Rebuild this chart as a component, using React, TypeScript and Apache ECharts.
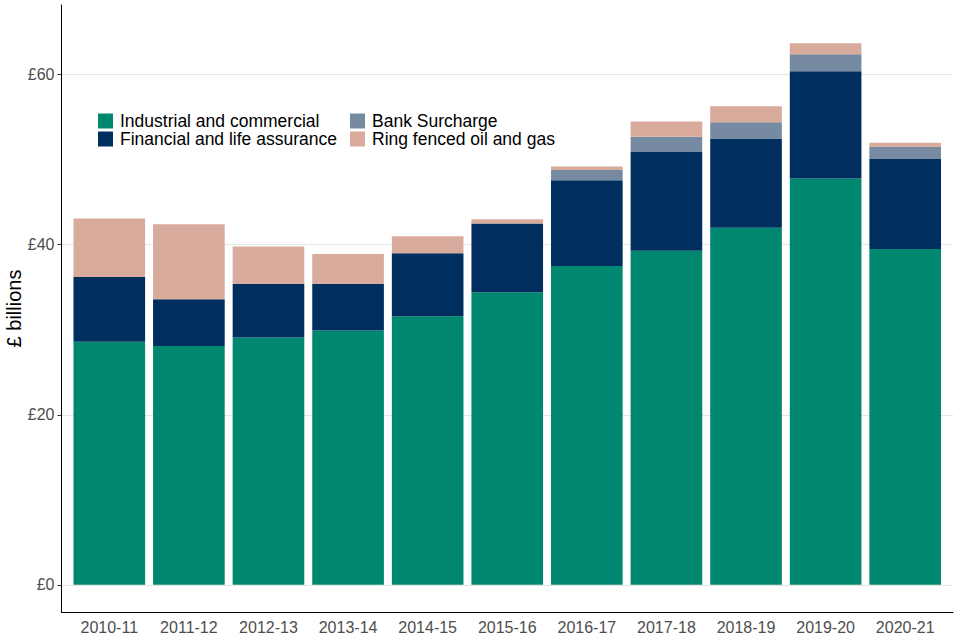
import React, { useEffect, useRef } from "react";
import * as echarts from "echarts";

const categories = ["2010-11", "2011-12", "2012-13", "2013-14", "2014-15", "2015-16", "2016-17", "2017-18", "2018-19", "2019-20", "2020-21"];
const industrial = [28.6, 28.1, 29.1, 29.9, 31.6, 34.4, 37.5, 39.3, 42.0, 47.8, 39.5];
const financial = [7.6, 5.5, 6.3, 5.5, 7.4, 8.1, 10.1, 11.6, 10.5, 12.6, 10.6];
const bankSurcharge = [0, 0, 0, 0, 0, 0, 1.2, 1.8, 1.9, 2.0, 1.4];
const ringFenced = [6.9, 8.8, 4.4, 3.5, 2.0, 0.5, 0.4, 1.8, 1.9, 1.3, 0.5];
const yTicks = [0, 20, 40, 60];

const FONT = "Liberation Sans, Arial, sans-serif";
const Y_MIN = -3.2;
const Y_MAX = 68.2;

export default function App() {
  const ref = useRef<HTMLDivElement>(null);
  useEffect(() => {
    if (!ref.current) return;
    const chart = echarts.init(ref.current, null, { renderer: "svg" });
    const mk = (name: string, vals: number[], color: string) => ({
      name,
      type: "bar",
      stack: "total",
      xAxisIndex: 1,
      yAxisIndex: 1,
      barCategoryGap: "10%",
      itemStyle: { color },
      data: vals,
    });
    const legendText = { fontSize: 17.5, lineHeight: 18, color: "#000", fontFamily: FONT, padding: [0, 0, 0, 2] };
    const legendBase = {
      orient: "vertical",
      top: 112,
      padding: 0,
      itemWidth: 15,
      itemHeight: 15,
      itemGap: 0,
      icon: "rect",
      textStyle: legendText,
    };
    chart.setOption({
      animation: false,
      grid: [
        { left: 61.5, right: 7, top: 5, bottom: 28, outerBoundsMode: "none", containLabel: false },
        { left: 69.5, right: 15, top: 5, bottom: 28, outerBoundsMode: "none", containLabel: false },
      ],
      legend: [
        { ...legendBase, left: 98, data: ["Industrial and commercial", "Financial and life assurance"] },
        { ...legendBase, left: 350, data: ["Bank Surcharge", "Ring fenced oil and gas"] },
      ],
      xAxis: [
        {
          gridIndex: 0,
          type: "value",
          min: 0,
          max: 1,
          axisLine: { show: true, onZero: false, lineStyle: { color: "#000", width: 1 } },
          axisTick: { show: false },
          splitLine: { show: false },
          axisLabel: { show: false },
        },
        {
          gridIndex: 1,
          type: "category",
          data: categories,
          axisLine: { show: false, onZero: false },
          axisTick: { show: false },
          splitLine: { show: false },
          axisLabel: {
            color: "#4d4d4d",
            fontSize: 16,
            fontFamily: FONT,
            margin: 7,
            interval: 0,
          },
        },
      ],
      yAxis: [
        {
          gridIndex: 0,
          type: "value",
          min: Y_MIN,
          max: Y_MAX,
          name: "£ billions",
          nameLocation: "middle",
          nameRotate: 90,
          nameGap: 38,
          nameMoveOverlap: false,
          nameTextStyle: { fontSize: 20, color: "#000", fontFamily: FONT },
          axisLine: { show: true, lineStyle: { color: "#000", width: 1 } },
          axisTick: { show: true, customValues: yTicks, length: 4, lineStyle: { color: "#333" } },
          splitLine: { show: true, lineStyle: { color: "#e5e5e5", width: 1 } },
          axisLabel: {
            customValues: yTicks,
            formatter: (v: number) => "£" + v,
            color: "#4d4d4d",
            fontSize: 16,
            fontFamily: FONT,
            margin: 7,
          },
        },
        {
          gridIndex: 1,
          type: "value",
          min: Y_MIN,
          max: Y_MAX,
          show: false,
          splitLine: { show: false },
        },
      ],
      series: [
        mk("Industrial and commercial", industrial, "#00876f"),
        mk("Financial and life assurance", financial, "#002e5e"),
        mk("Bank Surcharge", bankSurcharge, "#768aa2"),
        mk("Ring fenced oil and gas", ringFenced, "#d9ab9c"),
      ],
    });
    return () => chart.dispose();
  }, []);
  return (
    <div
      ref={ref}
      style={{ position: "absolute", left: 0, top: 0, width: 960, height: 640 }}
    />
  );
}
